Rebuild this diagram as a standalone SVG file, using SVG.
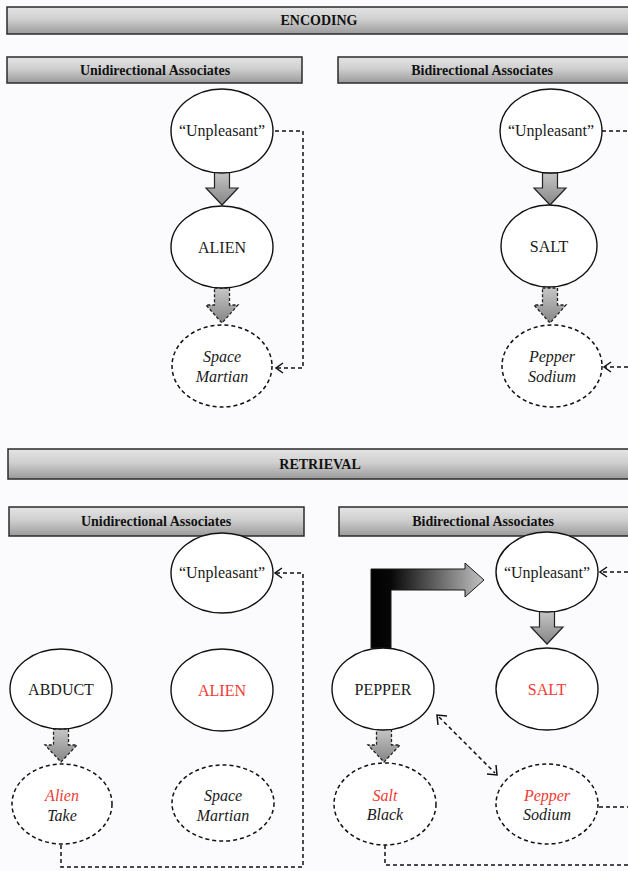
<svg xmlns="http://www.w3.org/2000/svg" width="628" height="871" viewBox="0 0 628 871">
  <style>
    .hdr { fill: url(#barGrad); stroke: #2b2b2b; stroke-width: 1.5; }
    .hdrtxt { font-family: "Liberation Serif", "Times New Roman", serif; font-weight: bold; font-size: 14px; fill: #111; text-anchor: middle; }
    .node { fill: #fff; stroke: #111; stroke-width: 1.4; }
    .dnode { fill: #fff; stroke: #111; stroke-width: 1.5; stroke-dasharray: 4 3; }
    .lbl { font-family: "Liberation Serif", "Times New Roman", serif; font-size: 16px; fill: #1a1a1a; text-anchor: middle; }
    .it { font-style: italic; }
    .red { fill: #ef3b33; }
    .fat { fill: url(#arrowGrad); stroke: #222; stroke-width: 1.2; }
    .fatd { fill: url(#arrowGrad); stroke: #222; stroke-width: 1.3; stroke-dasharray: 3 2; }
    .link { fill: none; stroke: #111; stroke-width: 1.5; stroke-dasharray: 4 3; }
    .head { fill: none; stroke: #111; stroke-width: 1.5; }
  </style>
  <defs>
    <linearGradient id="barGrad" x1="0" y1="0" x2="0" y2="1">
      <stop offset="0" stop-color="#e4e4e4"/>
      <stop offset="0.45" stop-color="#cfcfcf"/>
      <stop offset="1" stop-color="#9a9a9a"/>
    </linearGradient>
    <linearGradient id="arrowGrad" x1="0" y1="0" x2="0" y2="1">
      <stop offset="0" stop-color="#c6c6c6"/>
      <stop offset="1" stop-color="#858585"/>
    </linearGradient>
    <linearGradient id="bentGrad" gradientUnits="userSpaceOnUse" x1="371" y1="0" x2="484" y2="0">
      <stop offset="0" stop-color="#000"/>
      <stop offset="0.18" stop-color="#080808"/>
      <stop offset="1" stop-color="#c2c2c2"/>
    </linearGradient>
  </defs>

  <rect x="0" y="0" width="628" height="871" fill="#fbfbfd"/>

  <!-- section and column headers -->
  <g id="hdr-encoding">
    <rect class="hdr" x="7" y="7" width="630" height="27"/>
    <text class="hdrtxt" x="319" y="25">ENCODING</text>
  </g>
  <g id="hdr-enc-uni">
    <rect class="hdr" x="7" y="57" width="295" height="26"/>
    <text class="hdrtxt" x="155" y="75">Unidirectional Associates</text>
  </g>
  <g id="hdr-enc-bi">
    <rect class="hdr" x="338" y="57" width="300" height="26"/>
    <text class="hdrtxt" x="482" y="75">Bidirectional Associates</text>
  </g>
  <g id="hdr-retrieval">
    <rect class="hdr" x="8" y="449" width="630" height="30"/>
    <text class="hdrtxt" x="320" y="469">RETRIEVAL</text>
  </g>
  <g id="hdr-ret-uni">
    <rect class="hdr" x="9" y="507" width="295" height="29"/>
    <text class="hdrtxt" x="156" y="526">Unidirectional Associates</text>
  </g>
  <g id="hdr-ret-bi">
    <rect class="hdr" x="339" y="507" width="300" height="29"/>
    <text class="hdrtxt" x="483" y="526">Bidirectional Associates</text>
  </g>

  <!-- connectors -->
  <g id="connectors">
    <!-- encoding, unidirectional -->
    <path class="fat" d="M214.5,172 H229.5 V188 H238 L222,205 L206,188 H214.5 Z"/>
    <path class="fatd" d="M214.5,288 H229.5 V305 H238 L222,323 L206,305 H214.5 Z"/>
    <path class="link" d="M275,131 H303 V368 H277"/>
    <polyline class="head" points="283,363 276,368 283,373"/>

    <!-- encoding, bidirectional -->
    <path class="fat" d="M542.5,173 H557.5 V188 H566 L550,205 L534,188 H542.5 Z"/>
    <path class="fatd" d="M542.5,288 H557.5 V305 H566 L550,323 L534,305 H542.5 Z"/>
    <path class="link" d="M602,131 H628"/>
    <path class="link" d="M628,367 H605"/>
    <polyline class="head" points="611,362 604,367 611,372"/>

    <!-- retrieval, unidirectional -->
    <path class="fatd" d="M53.5,729 H68.5 V745 H77 L61,762 L45,745 H53.5 Z"/>
    <path class="link" d="M61,845 V867 H303 V573 H276"/>
    <polyline class="head" points="282,568 275,573 282,578"/>

    <!-- retrieval, bidirectional -->
    <path d="M371,648 V569 H465 V563 L484,580 L465,597 V590 H391 V648 Z" fill="url(#bentGrad)" stroke="#1a1a1a" stroke-width="1"/>
    <path class="fat" d="M539.5,611 H554.5 V627 H563 L547,644 L531,627 H539.5 Z"/>
    <path class="fatd" d="M376.5,729 H391.5 V745 H400 L384,762 L368,745 H376.5 Z"/>
    <path class="link" d="M628,572 H601"/>
    <polyline class="head" points="607,567 600,572 607,577"/>
    <path class="link" d="M439,717 L495,773"/>
    <polyline class="head" points="438,725 437,715 447,716"/>
    <polyline class="head" points="487,774 497,775 496,765"/>
    <path class="link" d="M599,807 H628"/>
    <path class="link" d="M385,845 V865 H628"/>
  </g>

  <!-- encoding, unidirectional nodes -->
  <g id="enc-uni-unpleasant">
    <ellipse class="node" cx="222" cy="131" rx="51" ry="42"/>
    <text class="lbl" x="222" y="136">“Unpleasant”</text>
  </g>
  <g id="enc-uni-alien">
    <ellipse class="node" cx="222" cy="247" rx="51" ry="41"/>
    <text class="lbl" x="222" y="253">ALIEN</text>
  </g>
  <g id="enc-uni-space-martian">
    <ellipse class="dnode" cx="222" cy="366" rx="50" ry="41"/>
    <text class="lbl it" x="222" y="362">Space</text>
    <text class="lbl it" x="222" y="382">Martian</text>
  </g>

  <!-- encoding, bidirectional nodes -->
  <g id="enc-bi-unpleasant">
    <ellipse class="node" cx="551" cy="131" rx="51" ry="42"/>
    <text class="lbl" x="551" y="136">“Unpleasant”</text>
  </g>
  <g id="enc-bi-salt">
    <ellipse class="node" cx="549" cy="246" rx="48" ry="41"/>
    <text class="lbl" x="549" y="252">SALT</text>
  </g>
  <g id="enc-bi-pepper-sodium">
    <ellipse class="dnode" cx="552" cy="366" rx="50" ry="41"/>
    <text class="lbl it" x="552" y="362">Pepper</text>
    <text class="lbl it" x="552" y="382">Sodium</text>
  </g>

  <!-- retrieval, unidirectional nodes -->
  <g id="ret-uni-unpleasant">
    <ellipse class="node" cx="222" cy="573" rx="51" ry="40"/>
    <text class="lbl" x="222" y="578">“Unpleasant”</text>
  </g>
  <g id="ret-uni-abduct">
    <ellipse class="node" cx="61" cy="689" rx="51" ry="40"/>
    <text class="lbl" x="61" y="695">ABDUCT</text>
  </g>
  <g id="ret-uni-alien">
    <ellipse class="node" cx="222" cy="690" rx="51" ry="41"/>
    <text class="lbl red" x="222" y="696">ALIEN</text>
  </g>
  <g id="ret-uni-alien-take">
    <ellipse class="dnode" cx="62" cy="804" rx="50" ry="40"/>
    <text class="lbl it red" x="62" y="801">Alien</text>
    <text class="lbl it" x="62" y="821">Take</text>
  </g>
  <g id="ret-uni-space-martian">
    <ellipse class="dnode" cx="223" cy="803" rx="51" ry="38"/>
    <text class="lbl it" x="223" y="801">Space</text>
    <text class="lbl it" x="223" y="821">Martian</text>
  </g>

  <!-- retrieval, bidirectional nodes -->
  <g id="ret-bi-unpleasant">
    <ellipse class="node" cx="547" cy="572" rx="51" ry="40"/>
    <text class="lbl" x="547" y="578">“Unpleasant”</text>
  </g>
  <g id="ret-bi-pepper">
    <ellipse class="node" cx="383" cy="689" rx="51" ry="41"/>
    <text class="lbl" x="383" y="695">PEPPER</text>
  </g>
  <g id="ret-bi-salt">
    <ellipse class="node" cx="547" cy="689" rx="51" ry="41"/>
    <text class="lbl red" x="547" y="695">SALT</text>
  </g>
  <g id="ret-bi-salt-black">
    <ellipse class="dnode" cx="385" cy="804" rx="51" ry="41"/>
    <text class="lbl it red" x="385" y="801">Salt</text>
    <text class="lbl it" x="385" y="820">Black</text>
  </g>
  <g id="ret-bi-pepper-sodium">
    <ellipse class="dnode" cx="547" cy="804" rx="51" ry="40"/>
    <text class="lbl it red" x="547" y="801">Pepper</text>
    <text class="lbl it" x="547" y="820">Sodium</text>
  </g>
</svg>
